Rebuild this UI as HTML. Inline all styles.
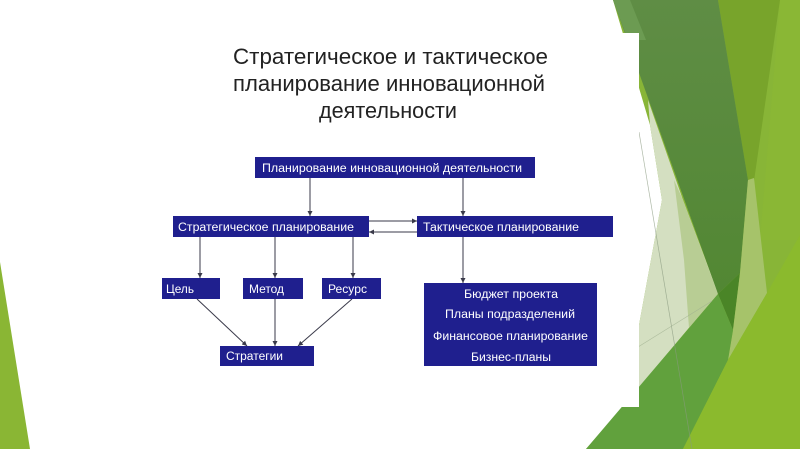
<!DOCTYPE html>
<html><head><meta charset="utf-8"><style>
html,body{margin:0;padding:0;background:#fff;}
svg{display:block;}
text{font-family:"Liberation Sans",Arial,sans-serif;}
</style></head><body>
<svg width="800" height="449" viewBox="0 0 800 449" xmlns="http://www.w3.org/2000/svg">
<defs>
<linearGradient id="dg" x1="0" y1="0" x2="0" y2="1">
<stop offset="0" stop-color="#5f8d45"/><stop offset="1" stop-color="#528733"/>
</linearGradient>
<marker id="ah" markerWidth="6" markerHeight="6" refX="5" refY="3" orient="auto" markerUnits="userSpaceOnUse">
<path d="M0,0.5 L5,3 L0,5.5 z" fill="#3a3a4a"/>
</marker>
</defs>
<rect width="800" height="449" fill="#fff"/>
<!-- right decoration -->
<polygon points="613,0 800,0 800,449 586,449 622,408 639,325 662,200 650,125" fill="#88b537"/>
<polygon points="780,0 800,0 800,240 760,240" fill="#8ab735"/>
<polygon points="718,0 780,0 752,195 748,180" fill="#78a42b"/>
<polygon points="648,100 683,200 718,293 622,408 639,325 662,200 650,125" fill="#d4dfc1"/>
<polygon points="674,180 683,200 718,294 689,328 684,260" fill="#b8cd94"/>
<polygon points="613,0 718,0 748,180 740,273 718,294" fill="url(#dg)"/>
<polygon points="613,0 630,0 646,40 628,40" fill="#6c9b52"/>
<polygon points="718,294 740,273 733,330" fill="#4a8527"/>
<polygon points="748,180 754,178 767,293 728,360 733,330 740,273" fill="#a6c36a"/>
<polygon points="718,294 733,330 728,360 683,449 586,449" fill="#61a13d"/>
<polygon points="800,235 800,449 683,449 728,360 767,293" fill="#8bba2d"/>
<line x1="639" y1="132" x2="692" y2="449" stroke="#8a9a80" stroke-width="0.7" opacity="0.7"/>
<line x1="630" y1="352" x2="712" y2="301" stroke="#a0b090" stroke-width="0.7" opacity="0.7"/>
<!-- white slide image -->
<rect x="40" y="33" width="599" height="374" fill="#fff"/>
<!-- left bottom green -->
<polygon points="0,262 30,449 0,449" fill="#8ab634"/>
<!-- title -->
<g font-size="22" fill="#222" text-anchor="middle">
<text x="390.5" y="64" textLength="315" lengthAdjust="spacingAndGlyphs">Стратегическое и тактическое</text>
<text x="389" y="91" textLength="312" lengthAdjust="spacingAndGlyphs">планирование инновационной</text>
<text x="388" y="118" textLength="138" lengthAdjust="spacingAndGlyphs">деятельности</text>
</g>
<!-- connectors -->
<g stroke="#3a3a4a" stroke-width="1" fill="none">
<line x1="310" y1="178" x2="310" y2="216" marker-end="url(#ah)"/>
<line x1="463" y1="178" x2="463" y2="216" marker-end="url(#ah)"/>
<line x1="369" y1="221" x2="417" y2="221" marker-end="url(#ah)"/>
<line x1="417" y1="232" x2="369" y2="232" marker-end="url(#ah)"/>
<line x1="200" y1="237" x2="200" y2="278" marker-end="url(#ah)"/>
<line x1="275" y1="237" x2="275" y2="278" marker-end="url(#ah)"/>
<line x1="353" y1="237" x2="353" y2="278" marker-end="url(#ah)"/>
<line x1="463" y1="237" x2="463" y2="283" marker-end="url(#ah)"/>
<line x1="197" y1="299" x2="247" y2="346" marker-end="url(#ah)"/>
<line x1="275" y1="299" x2="275" y2="346" marker-end="url(#ah)"/>
<line x1="352" y1="299" x2="298" y2="346" marker-end="url(#ah)"/>
</g>
<!-- boxes -->
<g fill="#1f1f8e">
<rect x="255" y="157" width="280" height="21"/>
<rect x="173" y="216" width="196" height="21"/>
<rect x="417" y="216" width="196" height="21"/>
<rect x="162" y="278" width="58" height="21"/>
<rect x="243" y="278" width="60" height="21"/>
<rect x="322" y="278" width="59" height="21"/>
<rect x="220" y="346" width="94" height="20"/>
<rect x="424" y="283" width="173" height="83"/>
</g>
<g fill="#fff" font-size="11.5">
<text x="262" y="172" textLength="260" lengthAdjust="spacingAndGlyphs">Планирование инновационной деятельности</text>
<text x="178" y="231" textLength="176" lengthAdjust="spacingAndGlyphs">Стратегическое планирование</text>
<text x="423" y="231" textLength="156" lengthAdjust="spacingAndGlyphs">Тактическое планирование</text>
<text x="166" y="293" textLength="28" lengthAdjust="spacingAndGlyphs">Цель</text>
<text x="249" y="293" textLength="35" lengthAdjust="spacingAndGlyphs">Метод</text>
<text x="328" y="293" textLength="39" lengthAdjust="spacingAndGlyphs">Ресурс</text>
<text x="226" y="360" textLength="57" lengthAdjust="spacingAndGlyphs">Стратегии</text>
<text x="464" y="298" textLength="94" lengthAdjust="spacingAndGlyphs">Бюджет проекта</text>
<text x="445" y="318" textLength="130" lengthAdjust="spacingAndGlyphs">Планы подразделений</text>
<text x="433" y="340" textLength="155" lengthAdjust="spacingAndGlyphs">Финансовое планирование</text>
<text x="471" y="361" textLength="80" lengthAdjust="spacingAndGlyphs">Бизнес-планы</text>
</g>
</svg>
</body></html>
